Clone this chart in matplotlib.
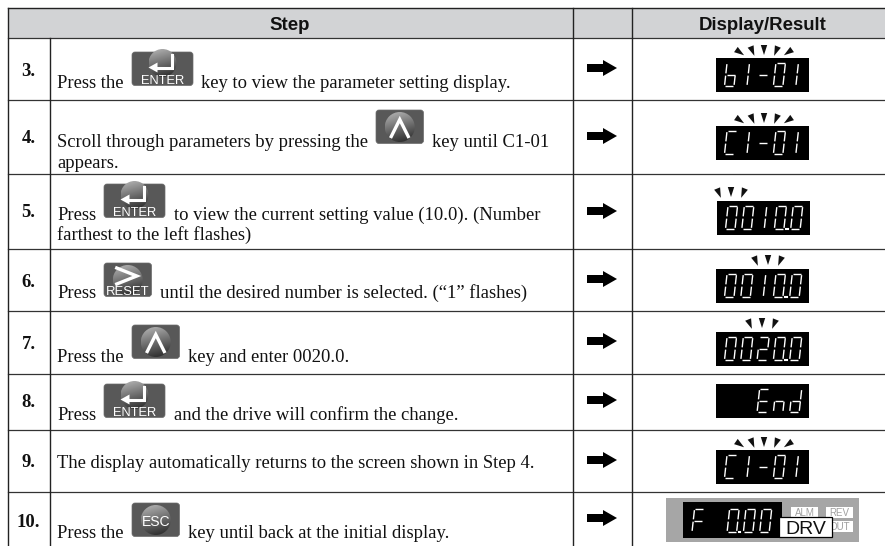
import numpy as np
import matplotlib
matplotlib.use("Agg")
import matplotlib.pyplot as plt
from matplotlib.patches import Rectangle, FancyBboxPatch, Circle, Polygon

# table content
headers = ["Step", "Display/Result"]
step_numbers = ["3.", "4.", "5.", "6.", "7.", "8.", "9.", "10."]
# each row : (text before key, key name, text after key, second line)
before_key = ["Press the", "Scroll through parameters by pressing the", "Press", "Press",
              "Press the", "Press", "The display automatically returns to the screen shown in Step 4.", "Press the"]
key_names = ["ENTER", "UP", "ENTER", "RESET", "UP", "ENTER", None, "ESC"]
after_key = ["key to view the parameter setting display.", "key until C1-01",
             "to view the current setting value (10.0). (Number",
             "until the desired number is selected. (\u201c1\u201d flashes)",
             "key and enter 0020.0.", "and the drive will confirm the change.", "",
             "key until back at the initial display."]
second_line = ["", "appears.", "farthest to the left flashes)", "", "", "", "", ""]
display_text = ["b1-01", "C1-01", "0010.0", "0010.0", "0020.0", "  End", "C1-01", "F 0.00"]
flash_count = [5, 5, 3, 3, 3, 0, 5, 0]
lamp_labels = ["ALM", "REV", "OUT"]
drv_label = "DRV"

# layout in pixels
row_lines = [37.5, 100, 174, 248.5, 311, 374, 430, 491.5]
col_lines = [7.5, 50, 572.5, 631.5]
text_x = 57
step_base = [76, 143, 217, 287, 349, 407, 467, 527]
text_base = [88, 147, 220, 298, 362, 420, 468, 538]
second_base = [None, 168, 240, None, None, None, None, None]
after_x = [201, 432, 174, 160, 188, 174, 0, 188]
key_x = [132, 376, 104, 104, 132, 104, 0, 132]
key_y = [52, 110, 184, 263, 325, 384, 0, 503]
arrow_y = [68, 136, 211, 279, 341, 400, 460, 518]
disp_x = [716, 716, 717, 716, 716, 716, 716, 683]
disp_y = [58, 126, 201, 269, 332, 384, 450, 502]
flash_x = [764, 764, 731, 768, 762, 0, 764, 0]
flash_y = [50, 118, 192, 260, 323, 0, 442, 0]

SERIF = "Liberation Serif"
SANS = "Liberation Sans"
BODY = 13.4

fig = plt.figure(figsize=(8.85, 5.46), dpi=100)
ax = fig.add_axes([0, 0, 1, 1])
ax.axis("off")

# seven segment shapes, unit cell 0..1
SEGS = {
    "a": [(0.08, 1), (0.92, 1)], "b": [(1, 0.95), (1, 0.55)], "c": [(1, 0.45), (1, 0.05)],
    "d": [(0.08, 0), (0.92, 0)], "e": [(0, 0.05), (0, 0.45)], "f": [(0, 0.55), (0, 0.95)],
    "g": [(0.08, 0.5), (0.92, 0.5)],
}
CHARS = {"0": "abcdef", "2": "abged", "b": "fegcd", "C": "afed", "E": "afged", "F": "afge",
         "n": "egc", "d": "bgcde", "-": "g", "1": "bc"}


def draw_char(ch, x, base, w=9.5, h=23):
    skew = 0.11
    for s in CHARS.get(ch, ""):
        (u0, v0), (u1, v1) = SEGS[s]
        if ch == "1":
            u0, u1 = u0 - 0.35, u1 - 0.35
        xs = [x + u0 * w + v0 * h * skew, x + u1 * w + v1 * h * skew]
        ys = [base - v0 * h, base - v1 * h]
        ax.plot(xs, ys, color="white", lw=1.0, solid_capstyle="butt", zorder=5)


def draw_display(txt, x0, y0, w=93, h=34, first=8.5, space=16.3):
    ax.add_patch(Rectangle((x0, y0), w, h, fc="black", ec="none", zorder=4))
    x = x0 + first
    base = y0 + h - 6
    for ch in txt:
        if ch == ".":
            ax.plot([x - 4.6, x - 3.0], [base, base], color="white", lw=1.5, zorder=5)
            continue
        draw_char(ch, x, base)
        x += space if ch == " " else 16.3


def draw_flash(n, cx, cy):
    if n == 5:
        offs, angs = [-24, -11.5, 0, 12, 24], [-55, -22, 0, 22, 55]
    else:
        offs, angs = [-12, 0, 12], [-22, 0, 22]
    for off, ang in zip(offs, angs):
        a = np.radians(ang)
        pts = np.array([[-3.2, -5], [3.2, -5], [0, 5]])
        rot = np.array([[np.cos(a), -np.sin(a)], [np.sin(a), np.cos(a)]])
        pts = pts @ rot.T + [cx + off, cy + abs(off) * 0.1]
        ax.add_patch(Polygon(pts, closed=True, fc="#111111", ec="none", zorder=4))


def draw_key(name, x0, y0):
    w = 61 if name == "ENTER" else 47.5
    h = 33.5
    box = FancyBboxPatch((x0 + 2, y0 + 2), w - 4, h - 4, boxstyle="round,pad=2,rounding_size=3",
                         fc="#585858", ec="#6a6a6a", lw=0.5, zorder=3)
    ax.add_patch(box)
    cx = x0 + w / 2
    cy = y0 + (11 if name == "ENTER" else 17)
    r = 15 if name != "ENTER" else 14
    yy, xx = np.mgrid[0:1:80j, 0:1:80j]
    grad = 0.68 - 0.46 * yy - 0.12 * (xx - 0.3)
    im = ax.imshow(grad, extent=(cx - r, cx + r, cy + r, cy - r), cmap="gray", vmin=0, vmax=1, zorder=3.5, aspect="auto")
    im.set_clip_path(Circle((cx, cy), r, transform=ax.transData))
    if name == "ENTER":
        ax.plot([cx + 9, cx + 9, cx - 6], [y0 + 3, y0 + 15.5, y0 + 15.5], color="white", lw=2.2, solid_joinstyle="miter", zorder=5)
        ax.add_patch(Polygon([[cx - 14, y0 + 15.5], [cx - 5, y0 + 10.5], [cx - 5, y0 + 20.5]], fc="white", ec="none", zorder=5))
        ax.text(cx, y0 + 32, "ENTER", family=SANS, fontsize=9.3, color="white", ha="center", va="baseline", zorder=5)
    elif name == "UP":
        ax.plot([cx - 8.5, cx, cx + 8.5], [cy + 9.5, cy - 7.5, cy + 9.5], color="white", lw=2.4, solid_joinstyle="miter", zorder=5)
    elif name == "RESET":
        ax.plot([cx - 11, cx + 9, cx - 11], [y0 + 5, y0 + 13, y0 + 21], color="white", lw=2.4, solid_joinstyle="miter", zorder=5)
        ax.text(cx, y0 + 32, "RESET", family=SANS, fontsize=9.4, color="white", ha="center", va="baseline", zorder=5)
    elif name == "ESC":
        ax.text(cx, y0 + 23, "ESC", family=SANS, fontsize=10, color="white", ha="center", va="baseline", zorder=5)


def draw_arrow(y):
    ax.add_patch(Polygon([[587, y - 4], [603, y - 4], [603, y - 8], [617, y], [603, y + 8], [603, y + 4], [587, y + 4]],
                         fc="black", ec="none", zorder=4))


# header band
ax.add_patch(Rectangle((col_lines[0], 7.5), 885 - col_lines[0], row_lines[0] - 7.5, fc="#d2d3d5", ec="none", zorder=1))
ax.text(290, 30.5, headers[0], family=SANS, weight="bold", fontsize=13.4, ha="center", va="baseline", color="#111111")
ax.text(762.5, 30.5, headers[1], family=SANS, weight="bold", fontsize=13.4, ha="center", va="baseline", color="#111111")

# grid lines
ax.plot([col_lines[0], 885], [7.5, 7.5], color="#222222", lw=1.0, zorder=2)
for y in row_lines:
    ax.plot([col_lines[0], 885], [y, y], color="#333333", lw=0.9, zorder=2)
ax.plot([col_lines[0], col_lines[0]], [7.5, 546], color="#222222", lw=1.0, zorder=2)
ax.plot([col_lines[1], col_lines[1]], [row_lines[0], 546], color="#222222", lw=1.0, zorder=2)
ax.plot([col_lines[2], col_lines[2]], [7.5, 546], color="#222222", lw=1.0, zorder=2)
ax.plot([col_lines[3], col_lines[3]], [7.5, 546], color="#222222", lw=1.0, zorder=2)

for i in range(len(step_numbers)):
    ax.text(28.5, step_base[i], step_numbers[i], family=SERIF, weight="bold", fontsize=BODY, ha="center", va="baseline", color="#111111")
    ax.text(text_x, text_base[i], before_key[i], family=SERIF, fontsize=BODY, ha="left", va="baseline", color="#111111")
    if key_names[i]:
        draw_key(key_names[i], key_x[i], key_y[i])
        ax.text(after_x[i], text_base[i], after_key[i], family=SERIF, fontsize=BODY, ha="left", va="baseline", color="#111111")
    if second_line[i]:
        ax.text(text_x, second_base[i], second_line[i], family=SERIF, fontsize=BODY, ha="left", va="baseline", color="#111111")
    draw_arrow(arrow_y[i])
    if flash_count[i]:
        draw_flash(flash_count[i], flash_x[i], flash_y[i])
    if i < len(step_numbers) - 1:
        draw_display(display_text[i], disp_x[i], disp_y[i])

# last row : panel with lamps
ax.add_patch(Rectangle((666, 498), 193, 44, fc="#a6a6a6", ec="none", zorder=3))
draw_display(display_text[7], disp_x[7], disp_y[7], w=99, h=36, first=9, space=18.8)
for lab, x, y in zip(lamp_labels, [791, 826, 826], [507, 507, 521]):
    ax.add_patch(Rectangle((x, y), 27, 10.5, fc="white", ec="none", zorder=4))
    ax.text(x + 13.5, y + 9.5, lab, family=SANS, fontsize=7, color="#a0a0a0", ha="center", va="baseline", zorder=5)
ax.add_patch(Rectangle((779, 517), 53, 20, fc="white", ec="black", lw=0.9, zorder=6))
ax.text(805.5, 533.5, drv_label, family=SANS, fontsize=14, color="#111111", ha="center", va="baseline", zorder=7)

ax.set_xlim(0, 885)
ax.set_ylim(546, 0)
fig.savefig("out.png", dpi=100)
